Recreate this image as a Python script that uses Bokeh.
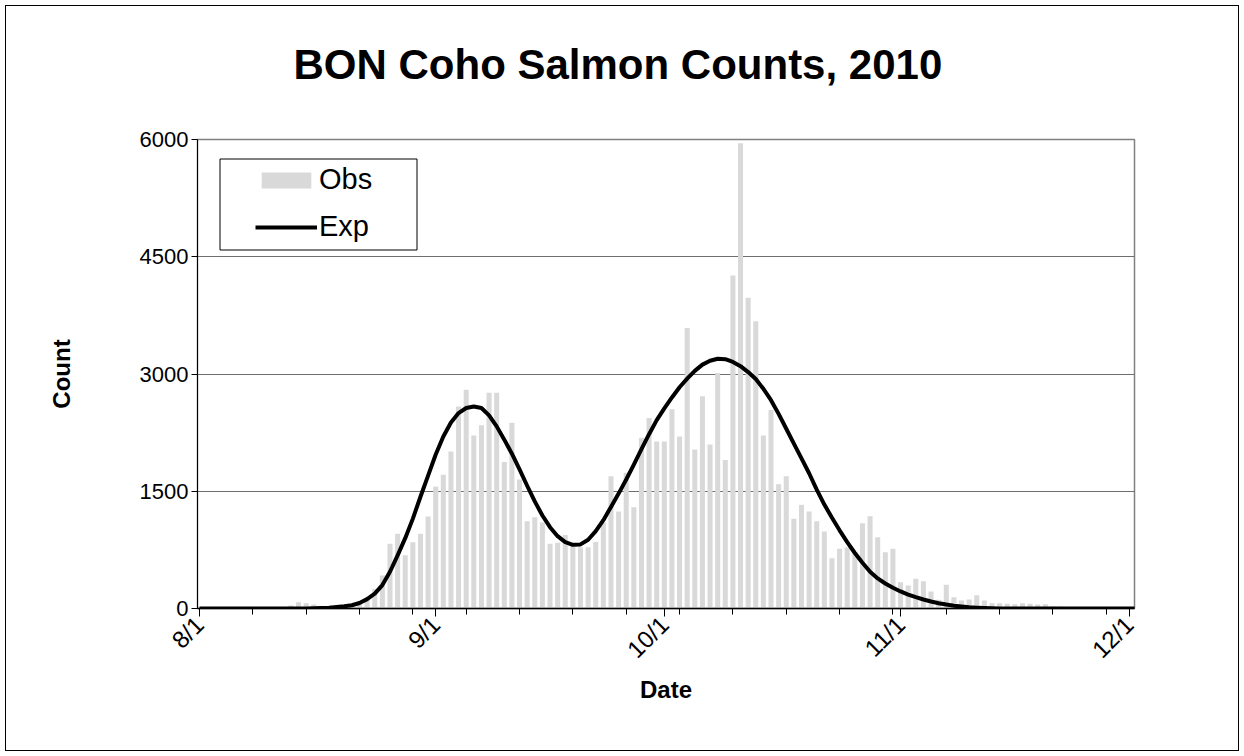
from math import pi
from bokeh.plotting import figure
from bokeh.models import (Range1d, FixedTicker, Legend, LegendItem, BoxAnnotation,
                          Title, ColumnDataSource)
from bokeh.embed import file_html
from bokeh.resources import INLINE

# ---------------- data (days counted from Aug 1, 2010) ----------------
obs_days = list(range(0, 122))
obs_counts = [
    0, 0, 0, 0, 0, 0, 0, 0, 0, 0,            # 8/1 - 8/10
    0, 0, 38, 80, 68, 51, 30, 25, 30, 40,    # 8/11 - 8/20
    50, 65, 110, 250, 422, 827, 955, 680, 848, 955,   # 8/21 - 8/30
    1177, 1560, 1710, 2008, 2584, 2800, 2213, 2345, 2759, 2759,  # 8/31 - 9/9
    1875, 2375, 1650, 1117, 1168, 1100, 827, 840, 940, 830,      # 9/10 - 9/19
    784, 784, 850, 1100, 1692, 1240, 1736, 1296, 2183, 2437,     # 9/20 - 9/29
    2138, 2138, 2550, 2200, 3590, 2034, 2716, 2098, 3014, 1901,  # 9/30 - 10/9
    4259, 5952, 3974, 3675, 2213, 2540, 1590, 1692, 1147, 1326,  # 10/10 - 10/19
    1240, 1117, 985, 644, 763, 780, 720, 1091, 1180, 912,        # 10/20 - 10/29
    720, 763, 337, 294, 379, 350, 217, 111, 305, 145,            # 10/30 - 11/8
    102, 115, 170, 102, 68, 68, 60, 55, 68, 60,                  # 11/9 - 11/18
    50, 55, 30, 25, 20, 15, 10, 10, 5, 0,                        # 11/19 - 11/28
    0, 0,                                                        # 11/29 - 11/30
]

exp_days = list(range(0, 124))
exp_counts = [
    0, 0, 0, 0, 0, 0, 0, 0, 0, 0,
    0, 0, 0, 0, 0, 2, 5, 10, 18, 28,
    42, 70, 120, 190, 300, 470, 680, 900, 1150, 1430,
    1700, 1970, 2200, 2380, 2500, 2565, 2585, 2565, 2470, 2330,
    2160, 1980, 1780, 1570, 1370, 1190, 1040, 925, 850, 815,
    820, 880, 990, 1130, 1300, 1470, 1650, 1840, 2040, 2230,
    2410, 2560, 2700, 2830, 2940, 3040, 3120, 3170, 3195, 3190,
    3155, 3100, 3025, 2935, 2810, 2665, 2490, 2300, 2110, 1920,
    1730, 1520, 1330, 1160, 1000, 850, 710, 585, 470, 385,
    320, 265, 218, 178, 145, 115, 90, 68, 50, 36,
    25, 16, 10, 5, 2, 0, 0, 0, 0, 0,
    0, 0, 0, 0, 0, 0, 0, 0, 0, 0,
    0, 0, 0, 0,
]

month_days = [0, 31, 61, 92, 122]
month_labels = ["8/1", "9/1", "10/1", "11/1", "12/1"]
week_days = list(range(0, 123, 7))
y_ticks = [0, 1500, 3000, 4500, 6000]

title_text = "BON Coho Salmon Counts, 2010"
x_title = "Date"
y_title = "Count"

FONT = "Liberation Sans"

# ---------------- figure ----------------
W, H = 1244, 756
p = figure(width=W, height=H, output_backend="svg", toolbar_location=None,
           x_range=Range1d(-0.26, 122.7), y_range=Range1d(0, 6000),
           min_border_left=197, min_border_right=110,
           min_border_top=139, min_border_bottom=148)
p.background_fill_color = "white"
# transparent surround so that the chart-area outline of the element shows
p.border_fill_color = None
p.outline_line_color = "#808080"
p.outline_line_width = 1.5
p.styles = {"outline": "1.5px solid black", "outline-offset": "-6px",
            "background-color": "white"}

obs_src = ColumnDataSource(data=dict(day=obs_days, count=obs_counts))
exp_src = ColumnDataSource(data=dict(day=exp_days, count=exp_counts))

bars = p.vbar(x="day", top="count", width=0.66, source=obs_src,
              fill_color="#d9d9d9", line_color=None)
line = p.line(x="day", y="count", source=exp_src, line_color="black",
              line_width=4, line_join="round")

# x axis
xax = p.xaxis[0]
xax.ticker = FixedTicker(ticks=month_days, minor_ticks=week_days)
xax.major_label_overrides = {d: lab for d, lab in zip(month_days, month_labels)}
xax.major_label_orientation = pi / 4
xax.major_label_text_font = FONT
xax.major_label_text_font_size = "24px"
xax.major_label_text_color = "black"
xax.major_tick_out = 8
xax.major_tick_in = 0
xax.minor_tick_out = 6
xax.minor_tick_in = 0
xax.major_tick_line_color = "black"
xax.minor_tick_line_color = "black"
xax.axis_line_color = "black"
xax.axis_line_width = 1.5
xax.major_label_standoff = 4
xax.axis_label = x_title
xax.axis_label_text_font = FONT
xax.axis_label_text_font_size = "24px"
xax.axis_label_text_font_style = "bold"
xax.axis_label_text_color = "black"
xax.axis_label_standoff = 0

# y axis
yax = p.yaxis[0]
yax.ticker = FixedTicker(ticks=y_ticks)
yax.major_label_text_font = FONT
yax.major_label_text_font_size = "22px"
yax.major_label_text_color = "black"
yax.major_tick_out = 6
yax.major_tick_in = 0
yax.minor_tick_line_color = None
yax.major_tick_line_color = "black"
yax.axis_line_color = "black"
yax.major_label_standoff = 3
yax.axis_label = y_title
yax.axis_label_text_font = FONT
yax.axis_label_text_font_size = "24px"
yax.axis_label_text_font_style = "bold"
yax.axis_label_text_color = "black"
yax.axis_label_standoff = 62

p.xgrid.visible = False
p.ygrid.ticker = FixedTicker(ticks=y_ticks)
p.ygrid.grid_line_color = "#6e6e6e"
p.ygrid.grid_line_width = 1

# legend frame (box) and legend
legend_box = BoxAnnotation(left=219.5, right=416.5, top=158.5, bottom=249.5,
                           left_units="canvas", right_units="canvas",
                           top_units="canvas", bottom_units="canvas",
                           fill_color="white", fill_alpha=1.0,
                           line_color="black", line_alpha=1.0, line_width=1,
                           level="annotation")
p.add_layout(legend_box)

legend = Legend(items=[LegendItem(label="Obs", renderers=[bars]),
                       LegendItem(label="Exp", renderers=[line])],
                location=(58, 365), padding=0, margin=0,
                border_line_alpha=0, background_fill_alpha=0,
                glyph_width=62, glyph_height=20, label_height=32,
                spacing=14, label_standoff=2,
                label_text_font=FONT, label_text_font_size="29px",
                label_text_color="black")
p.add_layout(legend, "center")

# title: a blank spacer title next to the frame, then the real title above it
spacer = Title(text=" ", text_font=FONT, text_font_size="22px", standoff=25)
main_title = Title(text=title_text, align="left", offset=96, standoff=0,
                   text_font=FONT, text_font_size="42px", text_font_style="bold",
                   text_color="black")
p.add_layout(spacer, "above")
p.add_layout(main_title, "above")

open("out.html", "w").write(file_html(p, INLINE))
